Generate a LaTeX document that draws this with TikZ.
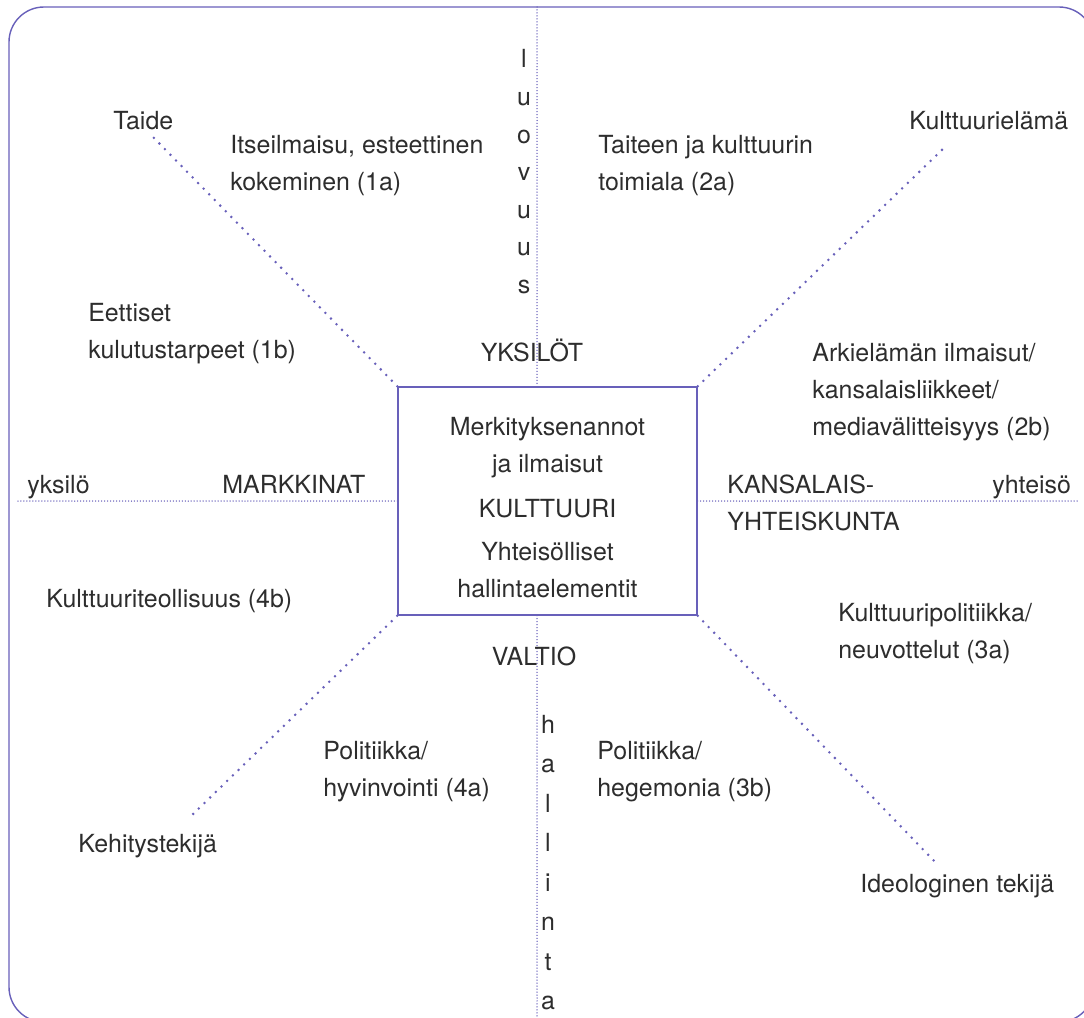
\documentclass[tikz,border=0pt]{standalone}
\usepackage{fontspec}
\setmainfont{TeX Gyre Heros}
\usetikzlibrary{calc}
\definecolor{linje}{RGB}{104,96,186}
\definecolor{teksti}{RGB}{45,45,45}

\begin{document}
\begin{tikzpicture}[x=0.02cm,y=-0.02cm,
	every node/.style={text=teksti,font=\fontsize{14.2pt}{21.05pt}\selectfont,inner sep=0pt},
	selite/.style={anchor=base west,align=left},
	keski/.style={anchor=base},
	axisdot/.style={linje,line width=0.85pt,line cap=round,dash pattern=on 0pt off 1.7pt},
	diagdot/.style={linje,line width=1.6pt,line cap=round,dash pattern=on 0pt off 4.5pt},
	kehys/.style={linje,line width=0.8pt}]
	\useasboundingbox (0,0) rectangle (1084,1017);
	\draw[kehys][rounded corners=0.7cm] (9,7) rectangle (1094,1022);

	\node[draw=linje,line width=0.8pt,minimum width=5.98cm,minimum height=4.56cm] (box) at (547.5,501) {};
	\node[align=center] (boxtext) at (547.5,508)
	{Merkityksenannot\\ja ilmaisut\\[4.5pt]KULTTUURI\\[3.5pt]Yhteisölliset\\hallintaelementit};

	\coordinate (ntop) at (537,7);
	\coordinate (nbot) at (537,1017);
	\coordinate (wend) at (18,501);
	\coordinate (eend) at (1078,501);
	\coordinate (tl) at (153,137);
	\coordinate (tr) at (947,145);
	\coordinate (bl) at (190,817);
	\coordinate (br) at (938,865);

	\draw[axisdot] (ntop) -- (ntop |- box.north);
	\draw[axisdot] (nbot |- box.south) -- (nbot);
	\draw[axisdot] (wend) -- (box.west);
	\draw[axisdot] (box.east) -- (eend);
	\draw[diagdot] (box.north west) -- (tl);
	\draw[diagdot] (box.north east) -- (tr);
	\draw[diagdot] (box.south west) -- (bl);
	\draw[diagdot] (box.south east) -- (br);

	\foreach \c [count=\i from 0] in {l,u,o,v,u,u,s}
		\node[keski] (luo\i) at (524,{68+37.5*\i}) {\c};
	\foreach \c [count=\i from 0] in {h,a,l,l,i,n,t,a}
		\node[keski] (hal\i) at (548,{733+39.5*\i}) {\c};

	\node[selite] (taide) at (113,130) {Taide};
	\node[selite] (t1a) at (230,190) {Itseilmaisu, esteettinen\\kokeminen (1a)};
	\node[selite] (t2a) at (598,190) {Taiteen ja kulttuurin\\toimiala (2a)};
	\node[selite] (elama) at (909,130) {Kulttuurielämä};
	\node[selite] (t1b) at (88,358) {Eettiset\\kulutustarpeet (1b)};
	\node[keski] (yksilot) at (532,361) {YKSILÖT};
	\node[selite] (t2b) at (812,435) {Arkielämän ilmaisut/\\kansalaisliikkeet/\\mediavälitteisyys (2b)};
	\node[selite] (yksilo) at (27,493) {yksilö};
	\node[selite] (markkinat) at (222,493) {MARKKINAT};
	\node[selite] (kansalais) at (727,530) {KANSALAIS-\\YHTEISKUNTA};
	\node[selite] (yhteiso) at (992,493) {yhteisö};
	\node[selite] (t4b) at (46,607) {Kulttuuriteollisuus (4b)};
	\node[keski] (valtio) at (534,665) {VALTIO};
	\node[selite] (t3a) at (838,658) {Kulttuuripolitiikka/\\neuvottelut (3a)};
	\node[selite] (t4a) at (323,796) {Politiikka/\\hyvinvointi (4a)};
	\node[selite] (t3b) at (597,796) {Politiikka/\\hegemonia (3b)};
	\node[selite] (kehitys) at (78,852) {Kehitystekijä};
	\node[selite] (ideol) at (860,892) {Ideologinen tekijä};
\end{tikzpicture}
\end{document}
